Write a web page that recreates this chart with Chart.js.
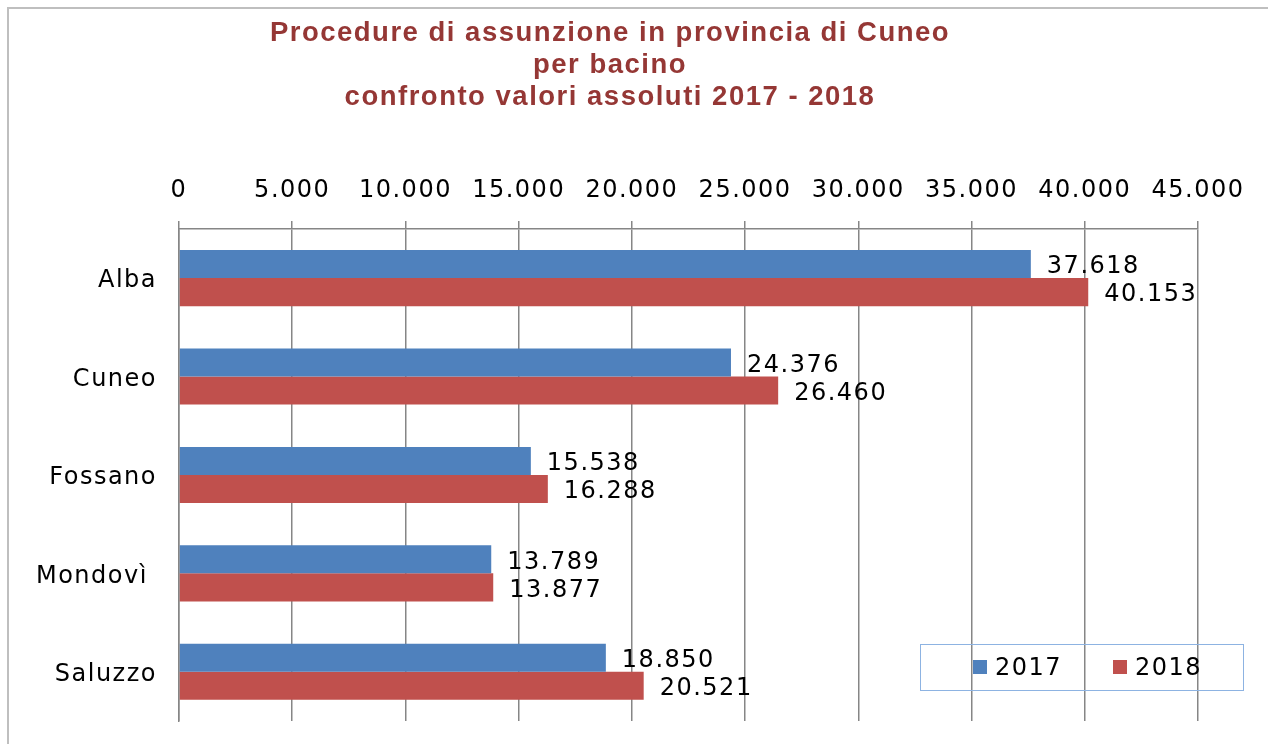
<!DOCTYPE html>
<html>
<head>
<meta charset="utf-8">
<script src="https://cdn.jsdelivr.net/npm/chart.js@4/dist/chart.umd.min.js"></script>
<style>
  body { margin: 0; background: #fff; }
  canvas { display: block; }
</style>
</head>
<body>
<canvas id="myChart" width="1268" height="744"></canvas>
<script>
let bacini = ["Alba", "Cuneo", "Fossano", "Mondovì ", "Saluzzo"];
let anni = ["2017", "2018"];
let valori2017 = [37618, 24376, 15538, 13789, 18850];
let valori2018 = [40153, 26460, 16288, 13877, 20521];
let titolo = [
  "Procedure di assunzione in provincia di Cuneo",
  "per bacino",
  "confronto valori assoluti 2017 - 2018"
];

function fmt(n) {
  return String(n).replace(/\B(?=(\d{3})+(?!\d))/g, ".");
}

// cornice grigia + spaziatura lettere come nell'originale
let frame = {
  id: "frame",
  beforeDraw(chart) {
    let c = chart.ctx;
    c.save();
    c.strokeStyle = "#bfbfbf";
    c.lineWidth = 2;
    c.strokeRect(8, 8, chart.width + 20, chart.height + 20);
    c.restore();
    c.letterSpacing = "1.5px";
  }
};

let valueLabels = {
  id: "valueLabels",
  afterDatasetsDraw(chart) {
    let c = chart.ctx;
    c.save();
    c.font = "24px 'DejaVu Sans'";
    c.fillStyle = "#000";
    c.textAlign = "left";
    c.textBaseline = "middle";
    chart.data.datasets.forEach((ds, i) => {
      chart.getDatasetMeta(i).data.forEach((bar, j) => {
        c.fillText(fmt(ds.data[j]), bar.x + 16, bar.y + 3);
      });
    });
    c.restore();
  }
};

let boxLegend = {
  id: "boxLegend",
  afterDraw(chart) {
    let c = chart.ctx;
    let a = chart.chartArea;
    let x0 = a.right - 278, y0 = a.bottom - 77;
    c.save();
    c.strokeStyle = "#8db3e2";
    c.lineWidth = 1;
    c.strokeRect(x0 + 0.5, y0 + 0.5, 323, 46);
    c.font = "24px 'DejaVu Sans'";
    c.textBaseline = "middle";
    c.fillStyle = "#000";
    chart.data.datasets.forEach((ds, i) => {
      let x = x0 + 53 + i * 140;
      c.fillStyle = ds.backgroundColor;
      c.fillRect(x, y0 + 16, 14, 14);
      c.fillStyle = "#000";
      c.fillText(ds.label, x + 22, y0 + 25);
    });
    c.restore();
  }
};

let ctx = document.getElementById("myChart");
let myBarChart = new Chart(ctx, {
  type: "bar",
  data: {
    labels: bacini,
    datasets: [
      {
        label: anni[0],
        data: valori2017,
        backgroundColor: "#4f81bd",
        categoryPercentage: 0.57,
        barPercentage: 1
      },
      {
        label: anni[1],
        data: valori2018,
        backgroundColor: "#c0504d",
        categoryPercentage: 0.57,
        barPercentage: 1
      }
    ]
  },
  options: {
    indexAxis: "y",
    responsive: false,
    animation: false,
    layout: { padding: { left: 22, right: 70, top: 9, bottom: 23 } },
    plugins: {
      legend: { display: false },
      tooltip: { enabled: false },
      title: {
        display: true,
        text: titolo,
        color: "#953735",
        font: { family: "'Liberation Sans', Arial", size: 27.5, weight: "bold", lineHeight: 1.15 },
        padding: { top: 9, bottom: 10 }
      }
    },
    scales: {
      x: {
        position: "top",
        min: 0,
        max: 45000,
        ticks: {
          stepSize: 5000,
          color: "#000",
          padding: 16,
          font: { family: "'DejaVu Sans'", size: 24 },
          callback: v => fmt(v)
        },
        grid: { color: "#868686", lineWidth: 1.5, tickLength: 8 },
        border: { display: true, color: "#868686", width: 1.5 },
        afterFit(axis) { axis.height = 106; }
      },
      y: {
        ticks: {
          color: "#000",
          padding: 22,
          labelOffset: 3,
          font: { family: "'DejaVu Sans'", size: 24 }
        },
        grid: { display: false, drawTicks: false },
        border: { display: true, color: "#868686", width: 1.5 },
        afterFit(axis) {
          axis.width = 157;
          axis.paddingTop = 0;
          axis.paddingBottom = 0;
        }
      }
    }
  },
  plugins: [frame, valueLabels, boxLegend]
});
</script>
</body>
</html>
